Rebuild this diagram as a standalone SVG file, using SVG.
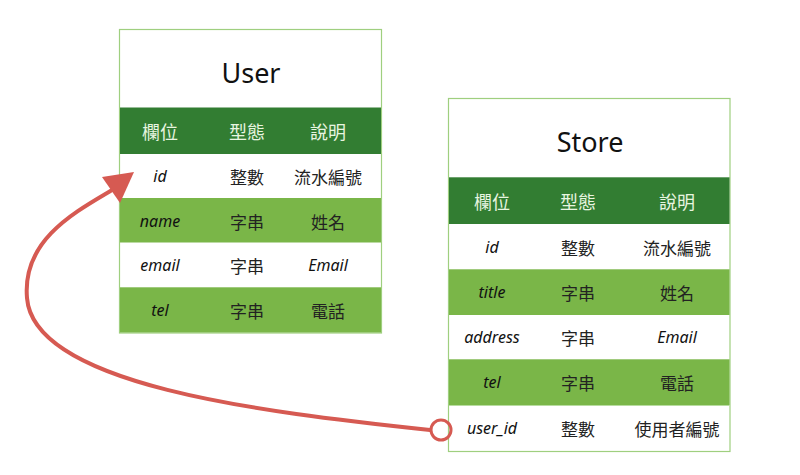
<svg xmlns="http://www.w3.org/2000/svg" width="800" height="475" viewBox="0 0 800 475">
<style>
.frame{fill:#ffffff;stroke:#9fcf7f;stroke-width:1.2}
.hd{fill:#327d32}
.alt{fill:#7ab648}
.sep{stroke:#b8dca0;stroke-width:1}
text{font-family:"Noto Sans","Noto Sans CJK TC",sans-serif;text-anchor:middle;dominant-baseline:central}
.title{font-size:27px;fill:#111}
.h{font-size:18px;fill:#e8f5e0;font-family:"Noto Sans CJK TC",sans-serif}
.c{font-size:16px;fill:#111}
.z{font-size:17px;fill:#222;font-family:"Noto Sans CJK TC",sans-serif}
.it{font-style:italic}
.conn{fill:none;stroke:#d65a52;stroke-width:4;stroke-linecap:round}
</style>
<g id="user">
<rect class="frame" x="119.5" y="29.5" width="262" height="303.5"/>
<rect class="hd" x="120" y="107.5" width="261" height="46.5"/>
<rect class="alt" x="120" y="198" width="261" height="44.5"/>
<rect class="alt" x="120" y="287.3" width="261" height="45.2"/>
<text class="title" x="251" y="72">User</text>
<text class="h" x="160" y="131">欄位</text>
<text class="h" x="247" y="131">型態</text>
<text class="h" x="328" y="131">說明</text>
<text class="c it" x="160" y="176">id</text>
<text class="z" x="247" y="176">整數</text>
<text class="z" x="328" y="176">流水編號</text>
<text class="c it" x="160" y="221">name</text>
<text class="z" x="247" y="221">字串</text>
<text class="z" x="328" y="221">姓名</text>
<text class="c it" x="160" y="265">email</text>
<text class="z" x="247" y="265">字串</text>
<text class="c it" x="328" y="265">Email</text>
<text class="c it" x="160" y="310">tel</text>
<text class="z" x="247" y="310">字串</text>
<text class="z" x="328" y="310">電話</text>
</g>
<g id="store">
<rect class="frame" x="448.5" y="98.5" width="281.5" height="353"/>
<rect class="hd" x="449" y="177.3" width="280.5" height="46.7"/>
<rect class="alt" x="449" y="269.3" width="280.5" height="45.7"/>
<rect class="alt" x="449" y="359.3" width="280.5" height="45.7"/>
<line class="sep" x1="449" y1="405.5" x2="729.5" y2="405.5"/>
<text class="title" x="590" y="141">Store</text>
<text class="h" x="492" y="201">欄位</text>
<text class="h" x="578" y="201">型態</text>
<text class="h" x="677" y="201">說明</text>
<text class="c it" x="492" y="247">id</text>
<text class="z" x="578" y="247">整數</text>
<text class="z" x="677" y="247">流水編號</text>
<text class="c it" x="492" y="292">title</text>
<text class="z" x="578" y="292">字串</text>
<text class="z" x="677" y="292">姓名</text>
<text class="c it" x="492" y="337">address</text>
<text class="z" x="578" y="337">字串</text>
<text class="c it" x="677" y="337">Email</text>
<text class="c it" x="492" y="382">tel</text>
<text class="z" x="578" y="382">字串</text>
<text class="z" x="677" y="382">電話</text>
<text class="c it" x="492" y="428">user_id</text>
<text class="z" x="578" y="428">整數</text>
<text class="z" x="677" y="428">使用者編號</text>
</g>
<g id="connectors">
<circle cx="441" cy="430" r="10" fill="none" stroke="#d65a52" stroke-width="3"/>
<path class="conn" d="M430 430 C 260 412, 34 385, 27 298 C 22 240, 75 212, 112 190"/>
<polygon points="102,177 134,172 120,203" fill="#d65a52"/>
</g>
</svg>
